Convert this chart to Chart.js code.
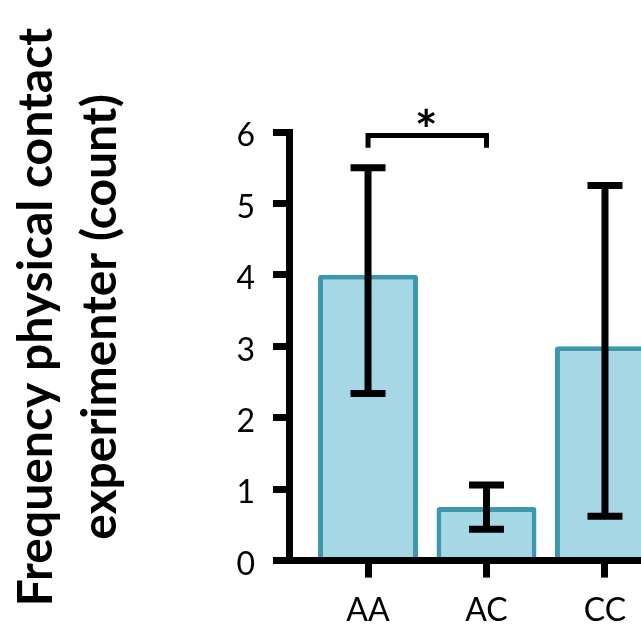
<!DOCTYPE html>
<html><head><meta charset="utf-8">
<script src="https://cdn.jsdelivr.net/npm/chart.js@4"></script>
<style>html,body{margin:0;padding:0;background:#fff;overflow:hidden}</style>
</head><body>
<canvas id="c" width="641" height="639"></canvas>
<script>
// ---- data ----
const categories = ['AA', 'AC', 'CC'];
const means = [4, 0.75, 3];
const errLow = [2.34, 0.44, 0.62];
const errHigh = [5.5, 1.06, 5.25];
const yTicks = [0, 1, 2, 3, 4, 5, 6];
const yTitleLines = ['Frequency physical contact', 'experimenter (count)'];
const sigPairs = [[0, 1]];
const sigLabels = ['*'];
const sigLevel = [5.95];      // bracket height (value units)
const sigLeg = [5.78];        // leg end (value units)

const barData = categories.map((c, i) => ({x: i, y: means[i]}));

const errorBars = {
  id: 'errorBars',
  afterDatasetsDraw(chart) {
    const {ctx, scales: {x, y}} = chart;
    ctx.save();
    ctx.strokeStyle = '#000';
    ctx.lineWidth = 7;
    ctx.lineCap = 'butt';
    categories.forEach((c, i) => {
      const px = x.getPixelForValue(i);
      const top = y.getPixelForValue(errHigh[i]);
      const bot = y.getPixelForValue(errLow[i]);
      ctx.beginPath();
      ctx.moveTo(px, top); ctx.lineTo(px, bot);
      ctx.moveTo(px - 17.5, top); ctx.lineTo(px + 17.5, top);
      ctx.moveTo(px - 17.5, bot); ctx.lineTo(px + 17.5, bot);
      ctx.stroke();
    });
    ctx.restore();
  }
};

const sigBrackets = {
  id: 'sigBrackets',
  afterDraw(chart) {
    const {ctx, scales: {x, y}} = chart;
    ctx.save();
    ctx.strokeStyle = '#000';
    ctx.fillStyle = '#000';
    ctx.lineWidth = 5;
    ctx.lineJoin = 'miter';
    sigPairs.forEach((p, k) => {
      const x0 = x.getPixelForValue(p[0]);
      const x1 = x.getPixelForValue(p[1]);
      const yt = y.getPixelForValue(sigLevel[k]);
      const yl = y.getPixelForValue(sigLeg[k]);
      ctx.beginPath();
      ctx.moveTo(x0, yl); ctx.lineTo(x0, yt); ctx.lineTo(x1, yt); ctx.lineTo(x1, yl);
      ctx.stroke();
      ctx.font = 'bold 54px Lato';
      ctx.textAlign = 'center';
      ctx.textBaseline = 'alphabetic';
      const m = ctx.measureText(sigLabels[k]);
      const cy = yt - 18;
      const base = cy + (m.actualBoundingBoxAscent - m.actualBoundingBoxDescent) / 2;
      ctx.fillText(sigLabels[k], (x0 + x1) / 2 - 1, base);
    });
    ctx.restore();
  }
};

const yTitle = {
  id: 'yTitle',
  afterDraw(chart) {
    const {ctx} = chart;
    ctx.save();
    ctx.fillStyle = '#000';
    ctx.font = 'bold 48px Lato';
    ctx.textAlign = 'center';
    ctx.textBaseline = 'alphabetic';
    ctx.translate(52, 317);
    ctx.rotate(-Math.PI / 2);
    yTitleLines.forEach((t, i) => ctx.fillText(t, 0, i * 64));
    ctx.restore();
  }
};

new Chart(document.getElementById('c'), {
  type: 'bar',
  data: {
    datasets: [{
      data: barData,
      backgroundColor: '#a6d7e4',
      borderColor: '#3d98ad',
      borderWidth: 5,
      borderRadius: 3,
      borderSkipped: 'start',
      categoryPercentage: 1,
      barPercentage: 0.844
    }]
  },
  options: {
    responsive: false,
    animation: false,
    devicePixelRatio: 1,
    layout: {padding: {top: 132, left: 232, right: 0, bottom: -5}},
    plugins: {legend: {display: false}, tooltip: {enabled: false}},
    scales: {
      x: {
        type: 'linear',
        offset: false,
        min: -0.667,
        max: 2.304,
        afterBuildTicks: s => { s.ticks = categories.map((c, i) => ({value: i})); },
        border: {display: true, color: '#000', width: 7},
        grid: {display: true, offset: false, drawOnChartArea: false, drawTicks: true, tickLength: 17, lineWidth: 7, color: '#000'},
        ticks: {
          callback: v => categories[v],
          color: '#000',
          font: {family: 'Lato', size: 32},
          padding: 14,
          maxRotation: 0,
          autoSkip: false
        }
      },
      y: {
        min: 0,
        max: 6,
        afterBuildTicks: s => { s.ticks = yTicks.map(v => ({value: v})); },
        afterFit: s => { s.width = 57; },
        border: {display: true, color: '#000', width: 7},
        grid: {display: true, drawOnChartArea: false, drawTicks: true, tickLength: 16, lineWidth: 7, color: '#000'},
        ticks: {
          color: '#000',
          font: {family: 'Lato', size: 32},
          padding: 18,
          labelOffset: 4
        }
      }
    }
  },
  plugins: [errorBars, sigBrackets, yTitle]
});
</script>
</body></html>
